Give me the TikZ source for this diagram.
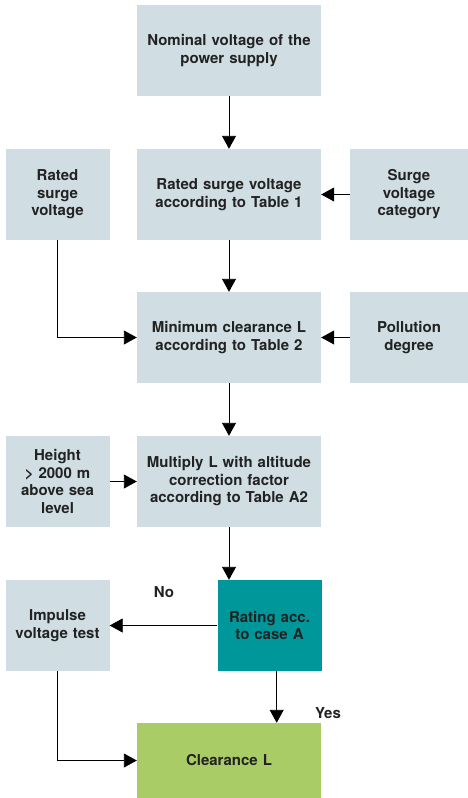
\documentclass[tikz,border=0pt]{standalone}
\usepackage{fontspec}
\setmainfont{TeX Gyre Heros}
\usetikzlibrary{arrows.meta,calc}
\definecolor{boxblue}{HTML}{D0DEE4}
\definecolor{teal}{HTML}{00979B}
\definecolor{lgreen}{HTML}{AACC66}
\definecolor{txt}{HTML}{222222}
\tikzset{
  box/.style={fill=boxblue, draw=none, inner sep=2pt, align=center, text=txt,
    font=\fontsize{15}{17.5}\selectfont\bfseries},
  wide/.style={box, minimum width=184pt, minimum height=91pt, text width=180pt},
  narrow/.style={box, minimum width=103pt, minimum height=91pt, text width=100pt},
  conn/.style={line width=0.9pt, -{Triangle[length=13pt,width=14pt]}},
  lbl/.style={text=txt, font=\fontsize{15}{17.5}\selectfont\bfseries, inner sep=0pt}
}
\begin{document}
\begin{tikzpicture}[x=1pt,y=-1pt]
\useasboundingbox[fill=white] (0,0) rectangle (468,798);
\node[wide] (nom) at (229,50.5) {Nominal voltage of the\\power supply\\[6pt]};
\node[wide] (rt1) at (229,194.5) {Rated surge voltage\\according to Table 1};
\node[narrow] (rsv) at (57.5,194.5) {Rated\\surge\\voltage};
\node[box, minimum width=118pt, minimum height=91pt, text width=114pt] (svc) at (409,194.5) {Surge\\voltage\\category};
\node[wide] (mcl) at (229,337.5) {Minimum clearance L\\according to Table 2};
\node[box, minimum width=118pt, minimum height=91pt, text width=114pt] (pol) at (409,337.5) {Pollution\\degree};
\node[narrow] (hgt) at (57.5,481.5) {Height\\> 2000 m\\above sea\\level};
\node[wide] (mul) at (229,481.5) {Multiply L with altitude\\correction factor\\according to Table A2};
\node[box, fill=teal, minimum width=103pt, minimum height=91pt, text width=100pt] (rat) at (269.5,625.5) {Rating acc.\\to case A\\[6pt]};
\node[narrow] (imp) at (57.5,625.5) {Impulse\\voltage test};
\node[box, fill=lgreen, minimum width=184pt, minimum height=75pt, text width=180pt] (clr) at (229,760.5) {Clearance L};
\node[lbl] (no) at (164,592) {No};
\node[lbl] (yes) at (328,713) {Yes};

\draw[conn] (nom.south) -- (rt1.north);
\draw[conn] (svc.west) -- (rt1.east);
\draw[conn] (rt1.south) -- (mcl.north);
\draw[conn] (rsv.south) |- (mcl.west);
\draw[conn] (pol.west) -- (mcl.east);
\draw[conn] (mcl.south) -- (mul.north);
\draw[conn] (hgt.east) -- (mul.west);
\draw[conn] (mul.south) -- (mul.south |- rat.north);
\draw[conn] (rat.west) -- (imp.east);
\draw[conn] ([xshift=7.2pt]rat.south) -- ([xshift=7.2pt]rat.south |- clr.north);
\draw[conn] (imp.south) |- (clr.west);
\end{tikzpicture}
\end{document}
